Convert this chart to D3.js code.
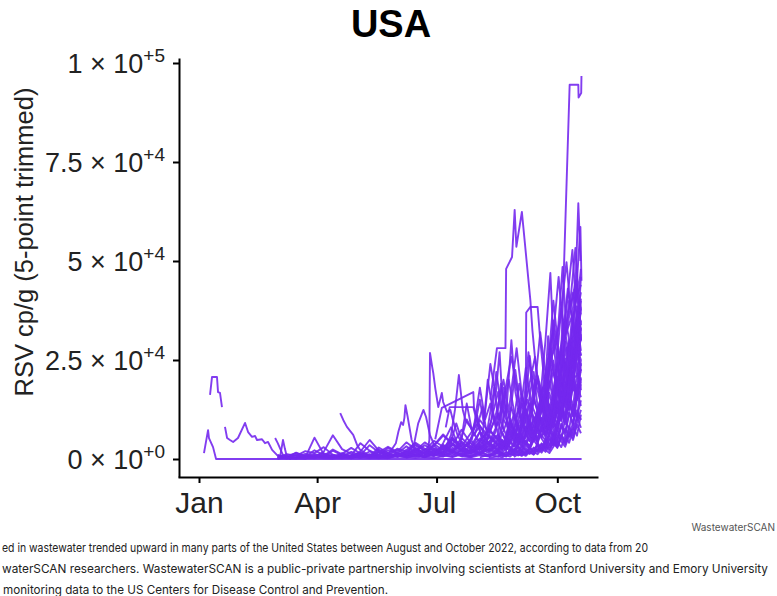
<!DOCTYPE html>
<html>
<head>
<meta charset="utf-8">
<script src="https://cdn.jsdelivr.net/npm/d3@7"></script>
<style>
  body { margin: 0; background: #fff; }
  svg { display: block; }
</style>
</head>
<body>
<div class="chart"></div>
<script>
// RSV in wastewater, USA sites (values in thousands of cp/g, day = days since Jan 1 2022)
var svgWidth = 777;
var svgHeight = 596;

var monthTicks = ["2022-01-01", "2022-04-01", "2022-07-01", "2022-10-01"];
var yTicks = [0, 25000, 50000, 75000, 100000];
var yTickLabels = [["0", "+0"], ["2.5", "+4"], ["5", "+4"], ["7.5", "+4"], ["1", "+5"]];

// shared sampling days for the low background sites
var gridDays = [60, 67, 74, 81, 88, 95, 102, 109, 116, 123, 130, 137, 144, 151, 158, 165, 172, 179, 186, 193, 200, 207, 214, 221, 228,
    231, 234, 237, 240, 243, 246, 249, 252, 255, 258, 261, 264, 267, 270, 273, 276, 279, 282, 285, 288, 291];

var bg01 = [0.5,1.2,0.8,2,1.5,3,1,0.6,1.8,0.9,0.4,1.1,2.2,1.4,0.7,1.9,3.5,2.1,1.2,2.8,1.6,3.2,2.4,4.1,2.8,
    3.5,2.6,4.4,3.1,5.2,3.8,6.1,4.5,7.2,5.3,8.8,6.4,10.5,8.1,12.6,9.7,15.2,12.4,18.5,14.8,20.3];
var bg02 = [null,null,null,0.4,5.4,1.2,0.8,0.3,0.6,1.4,0.9,0.5,1.6,2.3,1.1,0.7,1.5,2.6,1.8,0.9,2.2,1.5,3.1,2,3.6,
    2.4,4.2,3,2.1,3.8,5.5,4.1,3.2,5.9,7.8,6,4.7,8.6,11.2,8.9,13.5,10.8,16.9,13.2,21.6,17.4];
var bg03 = [1,0.4,0.2,0.9,0.6,1.8,6,2.5,1.3,0.5,0.9,1.7,0.8,2.6,1.9,3.4,2.2,4.6,3.1,1.8,3.9,2.7,5.2,3.6,2.4,
    4.7,3.3,2.5,4.1,6.3,4.8,3.6,5.7,8.4,6.5,9.9,7.7,12.1,9.4,14.6,11.5,17.8,22.4,18.1,26.7,23.5];
var bg04 = [null,null,null,null,null,null,0.5,1.2,0.7,1.9,4.8,2.1,1,0.6,1.3,2.4,1.5,3.3,5.9,3.8,2.2,1.4,2.9,4.3,6.2,
    4.4,3.1,5.6,7.9,5.8,4.2,6.8,9.1,6.9,5.1,7.5,10.8,8.2,6.3,9.6,13.4,10.2,14.9,19.8,16.1,24.2];
var bg05 = [0.2,0.6,0.3,0.1,0.8,0.4,0.2,0.9,0.5,1.6,0.7,0.3,1.2,0.6,2,1.1,0.5,1.4,0.8,2.3,1.2,0.7,1.8,1,2.6,
    1.5,0.9,2.2,1.4,3.1,2,1.3,2.8,1.9,4,2.7,1.8,3.6,5.1,3.4,6.2,4.5,8.3,6,10.7,7.9];
var bg06 = [null,null,null,null,null,null,null,null,null,null,0.4,1,2.8,1.5,0.8,2.1,4.2,2.6,1.4,3.4,7.4,4,2.3,5.6,3.3,
    2,4.4,6.8,4.7,3.1,5.9,8.3,6.1,4.4,7.6,10.4,7.9,5.8,9.5,13.2,10.1,16.4,12.8,20.7,28.3,22.1];
var bg07 = [0.8,0.3,1.6,0.7,1.3,0.5,2.1,0.9,0.4,1,3.5,1.7,0.8,1.5,0.6,1.2,2.4,1.3,3.1,1.9,0.9,2.5,1.6,3.3,2.1,
    1.4,2.9,2,3.7,2.6,1.8,3.4,2.4,4.8,3.3,2.3,4.3,6.1,4.2,3,5.5,7.7,5.6,9.2,12.3,9.8];
var bg08 = [null,null,null,null,null,null,null,null,null,null,null,null,null,null,0.3,0.9,1.8,0.8,2.7,1.5,4.4,2.6,1.4,3.7,5.8,
    3.9,2.5,4.9,7.1,5,3.3,6.4,9,6.6,4.5,8.2,11.6,8.6,13.9,10.3,17,13.1,22.5,17.3,30.8,26.2];
var bg09 = [0.1,0.4,0.9,0.4,0.2,0.6,0.3,1.5,0.7,0.3,0.8,0.4,0.2,0.9,1.7,0.8,0.4,1.1,0.6,1.9,1,0.5,1.4,2.4,1.3,
    0.8,1.8,1.1,2.6,1.6,3.4,2.2,1.4,2.9,1.9,3.9,2.6,5,3.4,6.4,4.5,3.1,5.8,8,5.9,11.2];
var bg10 = [null,null,null,null,null,null,null,null,null,null,null,null,null,null,null,null,null,1.2,3.6,2,0.9,2.3,6.8,3.9,2.2,
    4.8,3,6.2,4.1,8.5,5.6,3.8,7.3,10.6,7.6,5.3,9.4,13.7,9.9,7.1,12.1,16.6,12.5,19.4,15.3,33.2];
var bg11 = [0.6,0.2,0.5,1.3,0.6,0.3,1.1,0.5,0.2,0.7,1.9,0.9,0.4,1.2,0.6,2.8,1.4,0.7,1.8,3.6,1.9,1,2.7,1.5,3.9,
    2.4,4.5,3,1.9,3.8,5.9,4,2.7,5.1,7.6,5.2,3.6,6.9,9.8,7,11.9,8.8,14.2,10.7,18.8,15.6];
var bg12 = [null,null,null,null,null,null,null,null,null,null,null,null,null,null,null,null,null,null,null,null,0.6,1.8,3.4,2,4.7,
    3,5.8,3.8,7.4,5.1,9.8,6.6,4.6,8.5,12.3,8.8,6.3,11.2,15.8,11.6,19.3,14.5,24.6,19.2,36.4,29.7];
var bg13 = [0.3,0.1,0.2,0.7,0.3,0.9,0.4,0.2,0.5,0.3,1.2,0.6,0.3,0.7,0.4,1,0.5,2.2,1.1,0.6,1.3,0.7,1.6,0.9,2,
    1.2,0.7,1.5,1,2.1,1.3,0.8,1.8,1.2,2.5,1.6,3.2,2.1,4.1,2.8,5.3,3.7,6.8,4.8,8.7,6.5];
var bg14 = [null,null,0.5,0.2,0.6,1.4,0.7,0.3,0.9,4,2.1,1,0.5,1.3,3.2,1.6,0.8,2.1,1.2,4.9,2.6,1.5,3.8,2.2,5.2,
    3.4,2.2,4.3,6.6,4.5,3,5.7,8.1,5.8,4,7.3,10.2,7.5,5.3,9,12.9,9.6,14.6,11,17.2,13.4];
var bg15 = [null,null,null,null,null,null,null,null,null,null,null,null,null,null,null,null,null,null,null,null,null,null,0.4,1.1,0.6,
    1.5,0.9,2.4,1.6,3.3,2.3,4.6,3.1,6,4.2,7.8,5.5,10.1,7.3,12.9,9.6,16.5,12.4,21.3,27.5,38.2];
var bg16 = [null,null,null,null,null,null,null,null,null,null,null,null,null,null,null,null,null,null,null,null,null,null,null,0.3,0.7,
    0.4,1,0.6,1.4,0.9,2,1.3,2.8,1.8,3.8,2.6,5.1,3.6,6.8,4.9,9,6.6,11.9,8.9,15.7,20.6];
var bg17 = [null,null,null,null,null,null,null,null,null,null,null,null,null,null,null,null,null,null,null,null,null,null,null,null,null,
    null,null,null,0.5,1.2,0.8,1.9,1.3,2.7,1.8,3.9,2.6,5.4,3.8,7.4,5.3,10.1,7.4,13.8,10.3,18.9];
var bg18 = [null,null,null,null,null,null,null,null,null,null,null,null,null,0.5,1.4,2.6,1.2,3.8,2.2,5.4,3.1,1.9,4.6,7.2,5,
    8.4,6.1,10.2,7.5,12.8,9.3,6.8,11.4,15.6,11.8,8.7,14.2,19.5,14.8,24.1,18.3,29.6,22.8,35.4,41.2,33.8];
var bg19 = [0.3,0.8,1.5,0.6,2.2,1,0.5,1.3,2.8,1.4,0.6,1.7,3.1,1.8,4.2,2.4,1.2,3.5,6.2,3.9,2.3,5.1,8.3,5.6,3.4,
    6.8,4.6,9.1,6.3,4.2,8.2,11.7,8.4,5.9,10.3,14.8,10.6,7.8,13.2,18.4,13.9,22.7,17.2,27.9,21.6,31.5];
var bg20 = [null,null,null,null,null,null,null,null,null,null,null,null,null,null,null,null,null,null,2.1,4.8,3.2,6.5,9.8,6.8,11.5,
    8.2,13.6,9.7,6.9,11.8,16.4,12.1,8.8,14.9,20.3,15.2,11.4,18.6,24.8,18.9,14.2,22.3,29.4,23.1,38.6,32.4];
var bg21 = [null,null,null,null,null,null,null,null,null,null,null,null,null,null,null,null,null,null,null,null,null,null,1.2,2.6,1.8,
    3.4,2.3,4.7,3.2,6.3,4.4,8.1,5.7,10.4,7.5,13.2,9.6,16.7,12.3,20.8,15.6,25.4,19.8,30.9,36.5,42.1];
var bg22 = [0.2,0.5,0.2,0.4,1,0.5,0.3,0.6,0.2,0.9,0.4,0.2,0.6,1.3,0.7,0.3,0.8,1.6,0.9,0.5,1.2,2,1.1,0.7,1.5,
    0.9,1.7,1.1,2.3,1.4,0.9,1.9,2.8,1.8,1.2,2.6,3.7,2.5,4.6,3.2,5.8,4.1,7.2,5.3,9.1,12.4];
var bg23 = [null,null,null,null,null,null,null,null,0.4,0.9,0.5,2.4,1.2,0.6,1.5,3.8,2,1.1,2.7,5.4,3.1,1.8,4.3,7.6,4.7,
    3.1,5.9,9.4,6.6,4.5,8.3,12.6,9.1,6.3,11.2,16.1,11.8,8.6,14.4,19.6,14.9,24.2,18.7,28.4,34.7,27.3];
var bg24 = [null,null,null,null,null,null,null,null,null,null,null,null,null,null,null,null,null,null,null,null,null,null,null,null,null,
    null,null,null,null,0.8,1.6,1.1,2.3,1.5,3.2,2.1,4.4,3,6.1,4.2,8.5,6,11.6,8.4,15.9,22.7];
var bg25 = [null,null,null,null,null,null,null,null,null,null,null,null,null,null,null,null,null,null,null,null,null,null,null,null,0.6,
    1.3,0.9,2,1.4,3,2.1,4.3,3,6,4.3,8.2,5.9,11,8.2,14.6,11,19.3,14.8,25.6,33.7,40.5];
var bg26 = [0.4,0.2,1.1,0.5,0.3,0.8,2.4,1.2,0.6,1.4,0.7,2.9,1.5,0.8,2.3,4.1,2.6,1.4,3.3,2.1,5.3,3.2,6.9,4.1,9.2,
    6.4,4.3,8.1,11.5,7.9,5.6,10.2,14.1,10.3,7.4,12.6,17.8,13.1,9.6,15.4,21.2,16.1,26.3,20.4,31.8,37.9];
var bg27 = [null,null,null,null,null,null,null,null,null,null,null,null,null,null,null,null,0.8,2.2,1.3,3.9,2.4,1.6,3.5,6,3.8,
    2.6,5.2,7.9,5.5,3.9,7.1,10.4,7.4,5.4,9.3,13.6,9.9,7.2,12,17.3,12.8,9.5,15.8,21.9,16.4,25.1];
var bg28 = [0.1,0.3,0.1,0.2,0.5,0.2,0.1,0.4,0.9,0.4,0.2,0.5,0.3,0.8,0.4,1.1,0.5,0.3,0.7,1.4,0.7,0.4,1,0.6,1.8,
    1,0.6,1.4,0.9,2,1.2,2.7,1.7,1.1,2.4,3.4,2.3,1.5,3.1,4.4,3,5.8,4.1,7.5,10.6,14.8];

// sites with their own sampling ([day, value])
var siteJan1 = [[3.8,1.5],[6.9,7.3],[7.6,5.3],[10.7,3],[13,0],[291.5,0]];
var siteJan2 = [[8.4,16.2],[9.9,20.7],[13.7,20.7],[14.5,16.9],[16,16.7],[17.5,13.1]];
var siteJan3 = [[19.8,8.1],[21.4,5.3],[23.6,4.8],[26,4.3],[29.7,5.3],[35.1,9.1],[37.4,6.8],[40.4,5.6],[42.7,5.8],[44.2,4.8],
    [48,5],[50.3,4],[52.6,4.3],[55.7,2.3],[59.5,1],[61.8,0.3],[66,0.8],[70,0]];
var siteMar1 = [[58,5.3],[60,4],[62,2.5],[64,1],[66,0.3]];
var siteMar2 = [[62,1],[64,4.8],[65.5,2.5],[67,0.5],[70,0]];
var siteApr1 = [[107.6,11.6],[110,9.8],[112.7,8.1],[117.5,6.1],[120.5,3.5],[122.8,2.3],[128,1.2],[135,0.5]];
var siteJun1 = [[160,1],[168,2],[174,1.5],[175.5,4.8],[176,26.8],[177.7,23.2],[178.5,21.7],[180,17.9],[182.3,13.1],[185,16.7],
    [186,14.4],[189,11.9],[191.5,12.4],[193.5,9.8],[197,6],[202,3],[208,4.5],[214,2]];
var siteJun2 = [[140,0.5],[145,1.5],[150,4],[152,7],[154,9.3],[155.5,8.6],[156.5,10.4],[157.3,13.6],[159,10.6],[162,4.8],[165,2],[170,1]];
var siteJun3 = [[160,2],[164,4],[167,9],[171,12.4],[173,10.6],[176,6],[180,3],[186,1.5]];
var siteJul1 = [[188,3],[192,6],[195,12.4],[198,21.2],[201,12.4],[203,9.8],[207,8],[212,5],[220,3]];
var siteJul2 = [[180,5],[185,12.9],[209,16.9],[209.5,13],[213,9],[218,6]];
var siteJul3 = [[188,8],[191,13.1],[209,13.1],[212,9],[216,5]];
var siteJul4 = [[190,2],[196,9],[200,5],[204,14],[208,7],[212,11],[216,4],[222,9],[228,17],[232,7],[238,13],[244,6],[250,15],
    [256,9],[262,18],[268,11],[274,21],[280,14],[286,27],[291,19]];
var siteJul5 = [[180,1],[186,4],[192,8],[198,3],[204,10],[210,6],[216,13],[220,5],[226,11],[232,20],[236,12],[242,28],[246,16],
    [252,9],[258,21],[264,13],[270,35],[276,22],[282,40],[288,29],[291,46]];
var siteAug1 = [[222,15],[227,28],[233.5,28],[234,48],[238.5,51],[240.5,62.9],[241.8,53.6],[246,62.4],[252.5,40],[254,32.6],
    [257,22],[261,15],[266,8],[272,4]];
var siteAug2 = [[240,6],[245,10],[249,14],[249.3,37],[252.5,38.4],[258,38.4],[260,30],[263,20],[267,12],[272,8]];
var siteAug3 = [[215,2],[220,8],[225,18],[228,10],[232,15],[238,25.8],[242,18],[246,10],[250,16],[256,25.8],[260,15],
    [265,12],[268,28],[272,18],[278,25],[284,20],[291,22]];
var siteAug4 = [[218,3],[223,10],[226.5,22],[230,14],[236,8],[241,22.5],[245,12],[249,23],[253,14],[258,10],[263,20],
    [270,33],[275,20],[280,28],[286,30],[291,25]];
var siteAug5 = [[200,2],[208,5],[214,18],[218,10],[222,14],[226,8],[231,12],[236,20],[240,12],[244,8],[250,12],[255,22],
    [259,10],[264,16],[270,22],[276,14],[282,30],[288,25],[291,35]];
var siteAug6 = [[205,3],[210,8],[214,15],[217,9],[220,20],[224,12],[228,6],[232,18],[235,9],[240,5],[246,14],[250,8],[256,20],
    [262,12],[268,25],[274,16],[280,34],[286,22],[291,40]];
var siteAug7 = [[210,1],[216,6],[222,24],[226,16],[229,27],[232,10],[238,6],[244,19],[248,11],[252,26],[256,14],[262,9],
    [266,31],[270,15],[276,38],[282,26],[288,44],[291,30]];
var siteAug8 = [[220,2],[226,7],[230,19],[234,11],[238,30],[241,17],[246,8],[251,27],[255,15],[260,32],[265,19],[270,40],
    [275,24],[281,43],[286,31],[291,37]];
var siteSep1 = [[255,8],[260,15],[264,30],[267.7,47],[270,30],[273,20],[276,28],[280,18],[285,12],[291,10]];
var siteSep2 = [[268,3],[274,8],[276.7,34],[282.4,94.5],[289,94.5],[289.2,91.3],[291.2,92.4],[291.4,96.7]];
var siteSep3 = [[270,5],[276,12],[280,20],[284,35],[287,45],[289,64.6],[289.8,57.8],[290.6,50]];
var siteSep4 = [[272,4],[278,10],[283,22],[287,40],[290.6,58.6],[291.4,45]];
var siteSep5 = [[265,4],[272,15],[278,30],[283,40],[286.8,53.3],[289,42],[291,48]];
var siteSep6 = [[262,6],[268,14],[274,25],[279,35],[284.5,52.8],[287,40],[291,44]];
var siteSep7 = [[258,8],[264,18],[270,28],[275,35],[280,49.7],[283,38],[287,45],[291,38]];
var siteSep8 = [[255,5],[262,15],[268,25],[273,30],[277,48.5],[280,32],[285,42],[291,30]];
var siteSep9 = [[250,6],[258,12],[264,20],[269,28],[274,46],[278,30],[284,36],[291,26]];

var bgSeries = [bg01, bg02, bg03, bg04, bg05, bg06, bg07, bg08, bg09, bg10, bg11, bg12, bg13, bg14,
    bg15, bg16, bg17, bg18, bg19, bg20, bg21, bg22, bg23, bg24, bg25, bg26, bg27, bg28];
var siteSeries = [siteJan1, siteJan2, siteJan3, siteMar1, siteMar2, siteApr1, siteJun1, siteJun2, siteJun3,
    siteJul1, siteJul2, siteJul3, siteJul4, siteJul5, siteAug1, siteAug2, siteAug3, siteAug4, siteAug5,
    siteAug6, siteAug7, siteAug8, siteSep1, siteSep2, siteSep3, siteSep4, siteSep5, siteSep6, siteSep7, siteSep8, siteSep9];

var allSeries = bgSeries.map(vals => vals.map((v, i) => [gridDays[i], v])).concat(siteSeries);

var origin = new Date(2022, 0, 1).getTime();
function toDate(day) { return new Date(origin + day * 864e5); }

var svg = d3.select(".chart").append("svg")
    .attr("width", svgWidth).attr("height", svgHeight)
    .style("font-family", "'Liberation Sans', Arial, sans-serif");

var x = d3.scaleTime()
    .domain([new Date(2021, 11, 16), new Date(2022, 10, 1)])
    .range([178, 598]);
var y = d3.scaleLinear()
    .domain([-4545, 101263])
    .range([477, 58]);

var line = d3.line()
    .defined(d => d[1] != null)
    .x(d => x(toDate(d[0])))
    .y(d => y(d[1] * 1000));

svg.append("g").selectAll("path")
    .data(allSeries).enter().append("path")
    .attr("d", line)
    .attr("fill", "none")
    .attr("stroke", "#7428ee")
    .attr("stroke-width", 1.9)
    .attr("stroke-opacity", 0.9)
    .attr("stroke-linejoin", "round");

// x axis
var xAxis = svg.append("g")
    .attr("transform", "translate(0,477)")
    .call(d3.axisBottom(x)
        .tickValues(monthTicks.map(d => d3.timeParse("%Y-%m-%d")(d)))
        .tickFormat(d3.timeFormat("%b"))
        .tickSize(6).tickSizeOuter(0).tickPadding(9));
xAxis.selectAll("text").attr("font-size", 30).attr("fill", "#222").attr("font-family", "'Liberation Sans', Arial, sans-serif");

// y axis
var yAxis = svg.append("g")
    .attr("transform", "translate(179,0)")
    .call(d3.axisLeft(y).tickValues(yTicks).tickSize(6).tickSizeOuter(0).tickPadding(8));
yAxis.selectAll("text").each(function(d, i) {
    var t = d3.select(this).text(null)
        .attr("font-size", 27).attr("fill", "#222")
        .attr("font-family", "'Liberation Sans', Arial, sans-serif")
        .attr("dy", "0.36em");
    t.append("tspan").text(yTickLabels[i][0] + " \u00d7 10");
    t.append("tspan").attr("dy", -11).attr("font-size", 19).text(yTickLabels[i][1]);
});

svg.selectAll(".domain, .tick line").attr("stroke", "#000").attr("stroke-width", 2);

// titles
svg.append("text")
    .attr("x", 391).attr("y", 37)
    .attr("text-anchor", "middle")
    .attr("font-size", 38).attr("font-weight", "bold")
    .text("USA");

svg.append("text")
    .attr("transform", "translate(33,242) rotate(-90)")
    .attr("text-anchor", "middle")
    .attr("font-size", 25.5).attr("fill", "#222")
    .text("RSV cp/g (5-point trimmed)");

svg.append("text")
    .attr("x", 775).attr("y", 531)
    .attr("text-anchor", "end")
    .attr("font-size", 10).attr("fill", "#555")
    .attr("font-family", "Inter, sans-serif")
    .text("WastewaterSCAN");

var caption = [
    ["ed in wastewater trended upward in many parts of the United States between August and October 2022, according to data from 20", 2, 552, 646],
    ["waterSCAN researchers. WastewaterSCAN is a public-private partnership involving scientists at Stanford University and Emory University", 2, 573, 766],
    ["monitoring data to the US Centers for Disease Control and Prevention.", 3, 594, 385]
];
svg.selectAll(".caption")
    .data(caption).enter().append("text")
    .attr("class", "caption")
    .attr("x", d => d[1]).attr("y", d => d[2])
    .attr("textLength", d => d[3])
    .attr("lengthAdjust", "spacingAndGlyphs")
    .attr("font-size", 12).attr("fill", "#222")
    .attr("font-family", "Inter, sans-serif")
    .text(d => d[0]);
</script>
</body>
</html>
